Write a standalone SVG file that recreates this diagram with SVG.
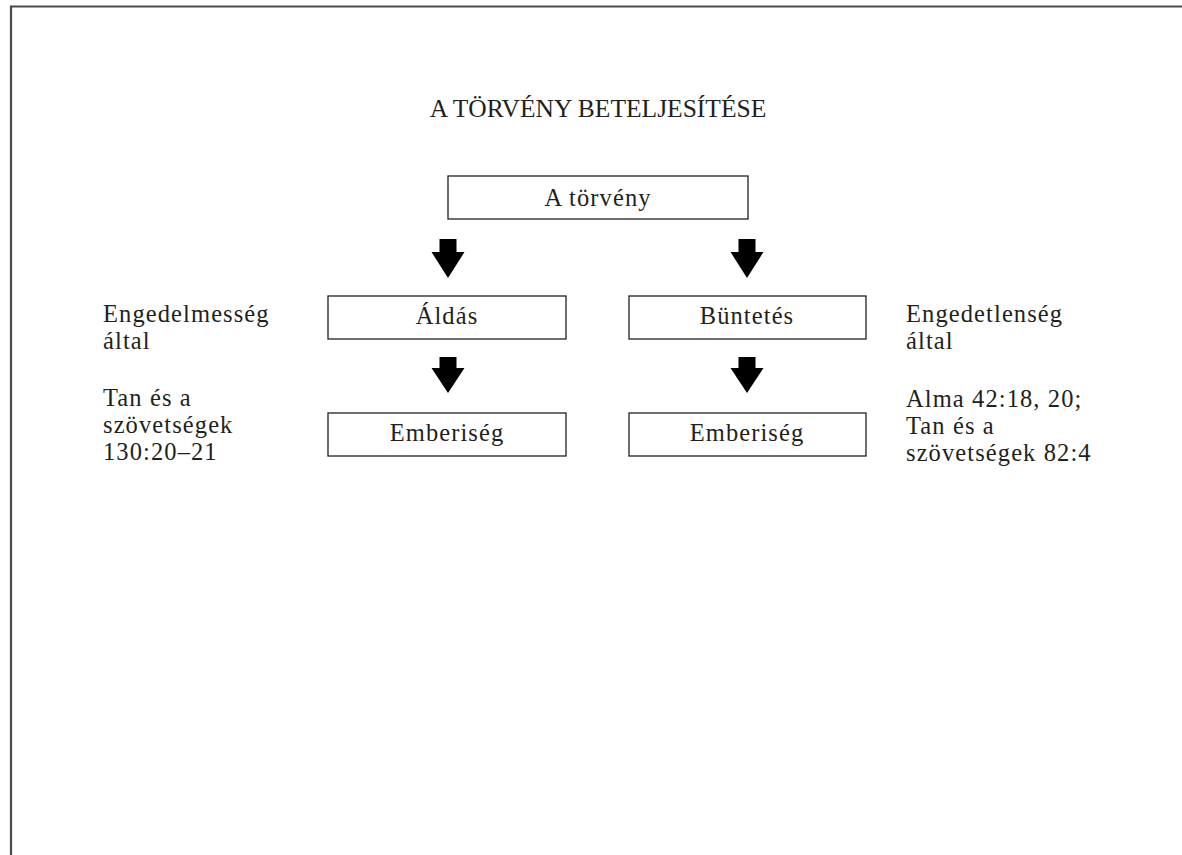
<svg xmlns="http://www.w3.org/2000/svg" width="1182" height="855" viewBox="0 0 1182 855">
<defs>
<style>
.frame{fill:none;stroke:#4a4a4a;stroke-width:2.2}
.box{fill:#fff;stroke:#231f20;stroke-width:1.3}
.t{font-family:"Liberation Serif","Times New Roman",serif;font-size:24.5px;fill:#231f20;letter-spacing:1.1px}
.c{text-anchor:middle}
.title{font-family:"Liberation Serif","Times New Roman",serif;font-size:25.5px;fill:#231f20;text-anchor:middle}
.arr{fill:#000}
</style>
</defs>
<rect width="1182" height="855" fill="#fff"/>
<path class="frame" d="M11,856 V6.5 H1183"/>
<text class="title" x="598" y="117">A TÖRVÉNY BETELJESÍTÉSE</text>
<g id="torveny"><rect class="box" x="448" y="176" width="300" height="43"/><text class="t c" x="598" y="206">A törvény</text></g>
<g id="aldas"><rect class="box" x="328" y="296" width="238" height="43"/><text class="t c" x="447" y="324">Áldás</text></g>
<g id="buntetes"><rect class="box" x="629" y="296" width="237" height="43"/><text class="t c" x="747" y="324">Büntetés</text></g>
<g id="emberiseg-bal"><rect class="box" x="328" y="413" width="238" height="43"/><text class="t c" x="447" y="441">Emberiség</text></g>
<g id="emberiseg-jobb"><rect class="box" x="629" y="413" width="237" height="43"/><text class="t c" x="747" y="441">Emberiség</text></g>
<g id="bal-felirat"><text class="t" x="103" y="322">Engedelmesség</text><text class="t" x="103" y="349">által</text><text class="t" x="103" y="406">Tan és a</text><text class="t" x="103" y="433">szövetségek</text><text class="t" x="103" y="460">130:20–21</text></g>
<g id="jobb-felirat"><text class="t" x="906" y="322">Engedetlenség</text><text class="t" x="906" y="349">által</text><text class="t" x="906" y="407">Alma 42:18, 20;</text><text class="t" x="906" y="434">Tan és a</text><text class="t" x="906" y="461">szövetségek 82:4</text></g>
<g id="connectors">
<path class="arr" d="M439.5,239 h17 v13 h8 l-16.5,26 l-16.5,-26 h8 z"/>
<path class="arr" d="M738.5,239 h17 v13 h8 l-16.5,26 l-16.5,-26 h8 z"/>
<path class="arr" d="M439.5,357 h17 v11 h8 l-16.5,25 l-16.5,-25 h8 z"/>
<path class="arr" d="M738.5,357 h17 v11 h8 l-16.5,25 l-16.5,-25 h8 z"/>
</g>
</svg>
